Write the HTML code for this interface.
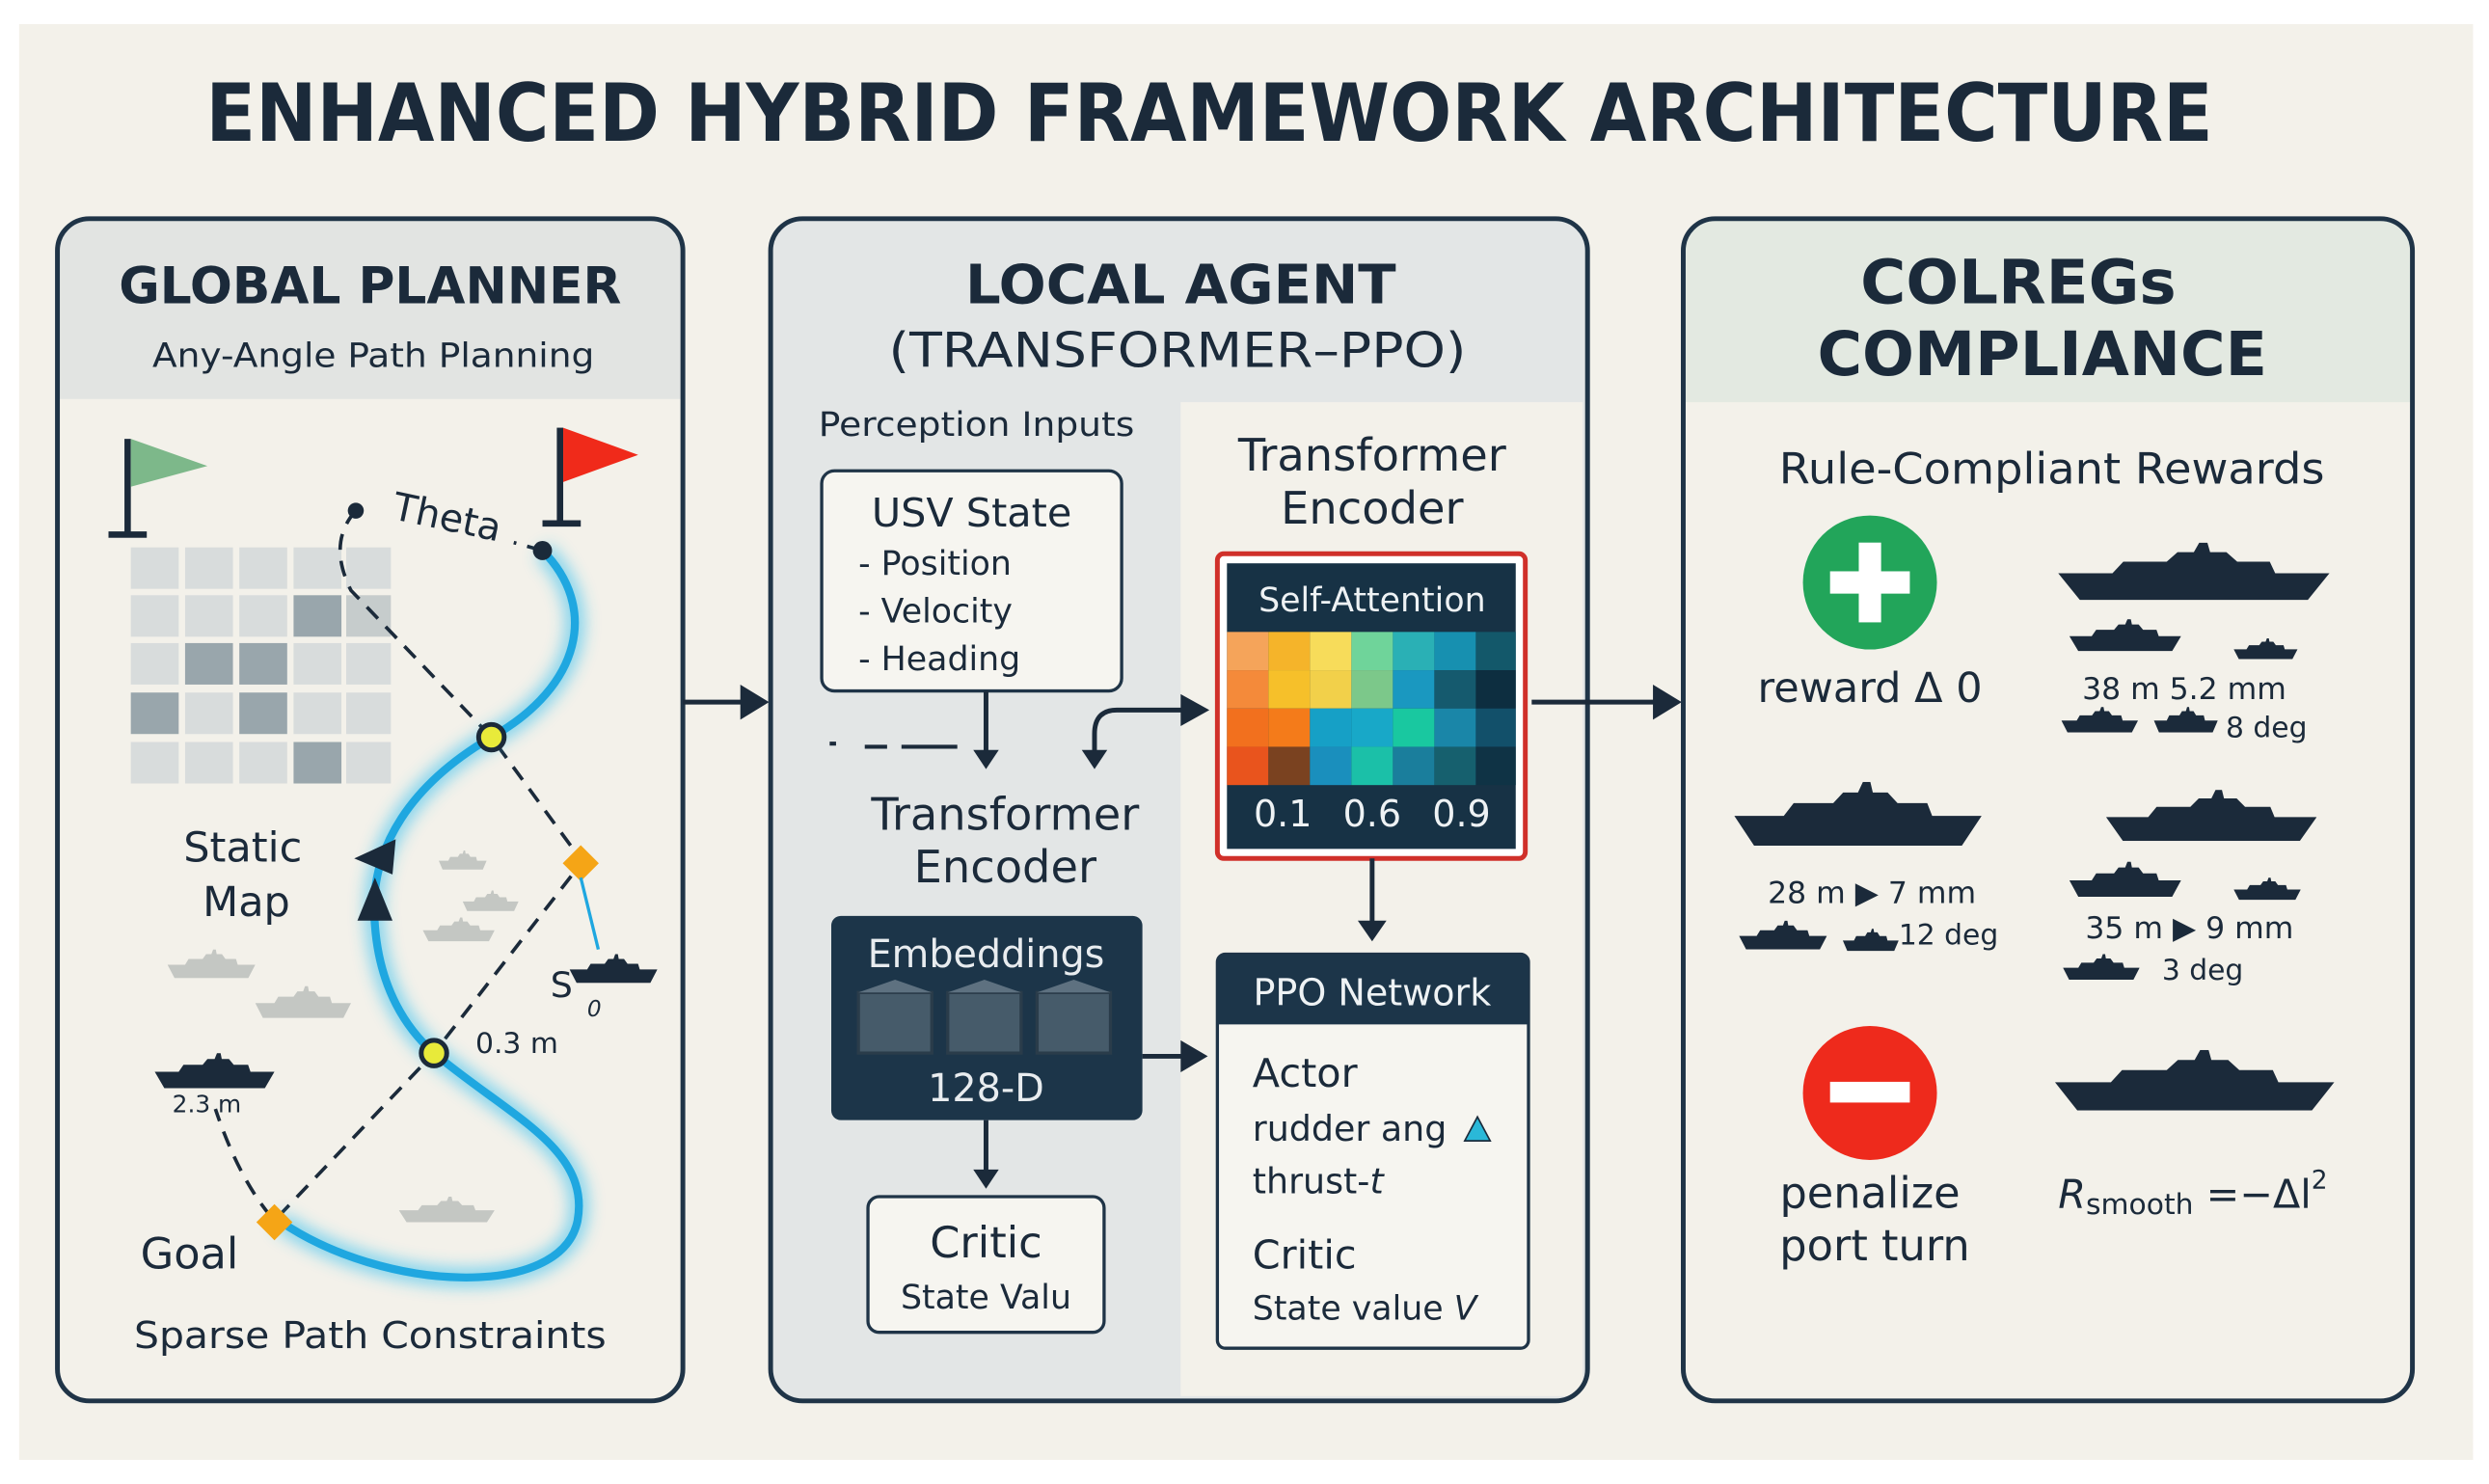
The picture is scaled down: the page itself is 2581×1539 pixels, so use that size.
<!DOCTYPE html>
<html><head><meta charset="utf-8"><style>
html,body{margin:0;padding:0;background:#fff;}
svg{display:block;}
text{font-family:"DejaVu Sans","Liberation Sans",sans-serif;fill:#1b2a3a;}
</style></head><body>
<svg width="2581" height="1539" viewBox="0 0 1560 930" xmlns="http://www.w3.org/2000/svg">
<defs>
<symbol id="ship" viewBox="0 0 100 30" preserveAspectRatio="none">
<path d="M0 16 L100 16 L92 30 L8 30 Z M20 16 L24 10 L40 10 L44 5 L50 5 L52 0 L55 0 L56 5 L62 5 L66 10 L78 10 L80 16 Z"/>
</symbol>
<filter id="glow" x="-20%" y="-20%" width="140%" height="140%"><feGaussianBlur stdDeviation="5"/></filter>
</defs>
<rect x="0" y="0" width="1560" height="930" fill="#fff"/>
<rect x="12" y="15" width="1538" height="900" fill="#f3f1ea"/>
<text x="758" y="88" font-size="50" font-weight="bold" text-anchor="middle" textLength="1258" lengthAdjust="spacingAndGlyphs">ENHANCED HYBRID FRAMEWORK ARCHITECTURE</text>

<!-- Panel 1 -->
<path d="M56 137 H408 Q428 137 428 157 V250 H36 V157 Q36 137 56 137Z" fill="#e2e4e2"/>
<rect x="36" y="137" width="392" height="741" rx="20" fill="none" stroke="#1f3447" stroke-width="3"/>
<text x="232" y="190" font-size="32" font-weight="bold" text-anchor="middle" textLength="315" lengthAdjust="spacingAndGlyphs">GLOBAL PLANNER</text>
<text x="234" y="230" font-size="21" text-anchor="middle" textLength="277" lengthAdjust="spacingAndGlyphs">Any-Angle Path Planning</text>
<g>
<rect x="82" y="343" width="30" height="26" fill="#d8dcdc"/><rect x="116" y="343" width="30" height="26" fill="#d8dcdc"/><rect x="150" y="343" width="30" height="26" fill="#d8dcdc"/><rect x="184" y="343" width="30" height="26" fill="#d8dcdc"/><rect x="217" y="343" width="28" height="26" fill="#d8dcdc"/>
<rect x="82" y="373" width="30" height="26" fill="#d8dcdc"/><rect x="116" y="373" width="30" height="26" fill="#d8dcdc"/><rect x="150" y="373" width="30" height="26" fill="#d8dcdc"/><rect x="184" y="373" width="30" height="26" fill="#99a6ac"/><rect x="217" y="373" width="28" height="26" fill="#c6cccc"/>
<rect x="82" y="403" width="30" height="26" fill="#d8dcdc"/><rect x="116" y="403" width="30" height="26" fill="#99a6ac"/><rect x="150" y="403" width="30" height="26" fill="#99a6ac"/><rect x="184" y="403" width="30" height="26" fill="#d8dcdc"/><rect x="217" y="403" width="28" height="26" fill="#d8dcdc"/>
<rect x="82" y="434" width="30" height="26" fill="#99a6ac"/><rect x="116" y="434" width="30" height="26" fill="#d8dcdc"/><rect x="150" y="434" width="30" height="26" fill="#99a6ac"/><rect x="184" y="434" width="30" height="26" fill="#d8dcdc"/><rect x="217" y="434" width="28" height="26" fill="#d8dcdc"/>
<rect x="82" y="465" width="30" height="26" fill="#d8dcdc"/><rect x="116" y="465" width="30" height="26" fill="#d8dcdc"/><rect x="150" y="465" width="30" height="26" fill="#d8dcdc"/><rect x="184" y="465" width="30" height="26" fill="#99a6ac"/><rect x="217" y="465" width="28" height="26" fill="#d8dcdc"/>
</g>
<rect x="78" y="275" width="4" height="60" fill="#1b2a3a"/><rect x="68" y="333" width="24" height="4" fill="#1b2a3a"/>
<path d="M82 275 L130 292 L82 305Z" fill="#7db88a"/>
<rect x="349" y="268" width="4" height="60" fill="#1b2a3a"/><rect x="340" y="326" width="24" height="4" fill="#1b2a3a"/>
<path d="M353 268 L400 285 L353 302Z" fill="#f02a1a"/>
<text x="245" y="325" font-size="24" transform="rotate(12 245 325)">Theta</text>
<path d="M340 345 L322 340 M223 320 Q205 340 220 370 L308 462 L365 540 L272 660 L172 765 Q150 740 135 695" fill="none" stroke="#1b2a3a" stroke-width="2.2" stroke-dasharray="10 7"/>
<path d="M340 345 C375 380 365 430 308 462 C260 490 230 530 235 580 C238 620 255 645 272 660 C320 700 370 720 362 765 C352 815 240 810 175 765" fill="none" stroke="#36c0ef" stroke-width="12" filter="url(#glow)" opacity="0.6"/>
<path d="M340 345 C375 380 365 430 308 462 C260 490 230 530 235 580 C238 620 255 645 272 660 C320 700 370 720 362 765 C352 815 240 810 175 765" fill="none" stroke="#1fa7e0" stroke-width="5"/>
<path d="M222 538 L248 526 L246 548Z" fill="#1b2a3a"/><path d="M235 550 L246 577 L224 577Z" fill="#1b2a3a"/>
<circle cx="223" cy="320" r="5" fill="#1b2a3a"/><circle cx="340" cy="345" r="6" fill="#1b2a3a"/>
<circle cx="308" cy="462" r="8" fill="#e8ea3a" stroke="#1b2a3a" stroke-width="3"/>
<circle cx="272" cy="660" r="8" fill="#e8ea3a" stroke="#1b2a3a" stroke-width="3"/>
<rect x="356" y="533" width="16" height="16" fill="#f5a516" transform="rotate(45 364 541)"/>
<rect x="164" y="758" width="16" height="16" fill="#f5a516" transform="rotate(45 172 766)"/>
<path d="M364 550 L375 595" stroke="#1fa7e0" stroke-width="2"/>
<text x="115" y="540" font-size="26">Static</text><text x="127" y="574" font-size="26">Map</text>
<text x="88" y="795" font-size="27">Goal</text>
<text x="232" y="845" font-size="23" text-anchor="middle" textLength="296" lengthAdjust="spacingAndGlyphs">Sparse Path Constraints</text>
<g fill="#c4c7c3">
<use href="#ship" x="105" y="595" width="55" height="18"/><use href="#ship" x="160" y="618" width="60" height="20"/>
<use href="#ship" x="265" y="575" width="45" height="15"/><use href="#ship" x="290" y="558" width="35" height="13"/>
<use href="#ship" x="250" y="750" width="60" height="16"/><use href="#ship" x="275" y="533" width="30" height="12"/>
</g>
<g fill="#1b2a3a"><use href="#ship" x="97" y="660" width="75" height="22"/><use href="#ship" x="357" y="598" width="55" height="18"/></g>
<text x="108" y="697" font-size="15">2.3 m</text>
<text x="298" y="660" font-size="18">0.3 m</text>
<text x="345" y="625" font-size="22">S</text><text x="368" y="637" font-size="14" font-style="italic">0</text>

<!-- Panel 2 -->
<rect x="483" y="137" width="512" height="741" rx="20" fill="#e3e6e6"/>
<rect x="740" y="252" width="252" height="623" fill="#f3f1ea"/>
<rect x="483" y="137" width="512" height="741" rx="20" fill="none" stroke="#1f3447" stroke-width="3"/>
<text x="740" y="190" font-size="34" font-weight="bold" text-anchor="middle" textLength="270" lengthAdjust="spacingAndGlyphs">LOCAL AGENT</text>
<text x="738" y="230" font-size="30" text-anchor="middle" textLength="362" lengthAdjust="spacingAndGlyphs">(TRANSFORMER–PPO)</text>
<text x="513" y="273" font-size="21" textLength="198" lengthAdjust="spacingAndGlyphs">Perception Inputs</text>
<rect x="515" y="295" width="188" height="138" rx="8" fill="#f6f5f0" stroke="#1f3447" stroke-width="2"/>
<text x="609" y="330" font-size="25" text-anchor="middle">USV State</text>
<text x="538" y="360" font-size="21">-  Position</text>
<text x="538" y="390" font-size="21">-  Velocity</text>
<text x="538" y="420" font-size="21">-  Heading</text>
<path d="M618 433 V472" stroke="#1b2a3a" stroke-width="3"/><path d="M610 470 L626 470 L618 482Z" fill="#1b2a3a"/>
<path d="M520 466 h4 M542 468 h14 M565 468 h35" stroke="#1b2a3a" stroke-width="2.5"/>
<path d="M686 472 V460 Q686 445 700 445 H745" fill="none" stroke="#1b2a3a" stroke-width="3"/>
<path d="M678 470 L694 470 L686 482Z" fill="#1b2a3a"/><path d="M740 435 L758 445 L740 455Z" fill="#1b2a3a"/>
<text x="630" y="520" font-size="28" text-anchor="middle">Transformer</text>
<text x="630" y="553" font-size="28" text-anchor="middle">Encoder</text>
<rect x="521" y="574" width="195" height="128" rx="6" fill="#1c3549"/>
<text x="618" y="606" font-size="24" text-anchor="middle" style="fill:#e8ecef">Embeddings</text>
<g fill="#465b6a" stroke="#2a3c4a" stroke-width="2">
<rect x="538" y="622" width="46" height="38"/><rect x="594" y="622" width="46" height="38"/><rect x="650" y="622" width="46" height="38"/>
</g>
<g fill="#5e7180"><path d="M538 622 L561 614 L584 622Z"/><path d="M594 622 L617 614 L640 622Z"/><path d="M650 622 L673 614 L696 622Z"/></g>
<text x="618" y="690" font-size="24" text-anchor="middle" style="fill:#e8ecef">128-D</text>
<path d="M618 702 V735" stroke="#1b2a3a" stroke-width="3"/><path d="M610 733 L626 733 L618 745Z" fill="#1b2a3a"/>
<rect x="544" y="750" width="148" height="85" rx="7" fill="#f6f5f0" stroke="#1f3447" stroke-width="2"/>
<text x="618" y="788" font-size="27" text-anchor="middle">Critic</text>
<text x="618" y="820" font-size="21" text-anchor="middle">State Valu</text>
<text x="860" y="295" font-size="28" text-anchor="middle">Transformer</text>
<text x="860" y="328" font-size="28" text-anchor="middle">Encoder</text>
<rect x="763" y="347" width="193" height="191" rx="4" fill="#fff" stroke="#d0302a" stroke-width="3"/>
<rect x="769" y="353" width="181" height="179" fill="#173245"/>
<text x="860" y="383" font-size="21" text-anchor="middle" style="fill:#eef2f4">Self-Attention</text>
<g>
<rect x="769" y="396" width="26" height="24" fill="#f5a45a"/><rect x="795" y="396" width="26" height="24" fill="#f5b42a"/><rect x="821" y="396" width="26" height="24" fill="#f7dc5a"/><rect x="847" y="396" width="26" height="24" fill="#6fd49a"/><rect x="873" y="396" width="26" height="24" fill="#2ab0b5"/><rect x="899" y="396" width="26" height="24" fill="#1790b0"/><rect x="925" y="396" width="25" height="24" fill="#13586a"/>
<rect x="769" y="420" width="26" height="24" fill="#f48a3a"/><rect x="795" y="420" width="26" height="24" fill="#f6c02a"/><rect x="821" y="420" width="26" height="24" fill="#f2d04a"/><rect x="847" y="420" width="26" height="24" fill="#7cc88a"/><rect x="873" y="420" width="26" height="24" fill="#1a98c0"/><rect x="899" y="420" width="26" height="24" fill="#155a6e"/><rect x="925" y="420" width="25" height="24" fill="#0d2e40"/>
<rect x="769" y="444" width="26" height="24" fill="#f2701e"/><rect x="795" y="444" width="26" height="24" fill="#f47b1a"/><rect x="821" y="444" width="26" height="24" fill="#16a0c6"/><rect x="847" y="444" width="26" height="24" fill="#18a8c8"/><rect x="873" y="444" width="26" height="24" fill="#19c8a0"/><rect x="899" y="444" width="26" height="24" fill="#1a86a8"/><rect x="925" y="444" width="25" height="24" fill="#12506a"/>
<rect x="769" y="468" width="26" height="24" fill="#e9541d"/><rect x="795" y="468" width="26" height="24" fill="#7a4220"/><rect x="821" y="468" width="26" height="24" fill="#1a8fbd"/><rect x="847" y="468" width="26" height="24" fill="#1bc0a8"/><rect x="873" y="468" width="26" height="24" fill="#1a7e9c"/><rect x="899" y="468" width="26" height="24" fill="#16606e"/><rect x="925" y="468" width="25" height="24" fill="#0f3345"/>
</g>
<text x="804" y="518" font-size="23" text-anchor="middle" style="fill:#eef2f4">0.1</text>
<text x="860" y="518" font-size="23" text-anchor="middle" style="fill:#eef2f4">0.6</text>
<text x="916" y="518" font-size="23" text-anchor="middle" style="fill:#eef2f4">0.9</text>
<path d="M860 538 V580" stroke="#1b2a3a" stroke-width="3"/><path d="M851 577 L869 577 L860 590Z" fill="#1b2a3a"/>
<path d="M716 662 H745" stroke="#1b2a3a" stroke-width="3"/><path d="M740 652 L757 662 L740 672Z" fill="#1b2a3a"/>
<rect x="763" y="598" width="195" height="247" rx="5" fill="#f6f5f0" stroke="#1f3447" stroke-width="2"/>
<path d="M763 603 Q763 598 768 598 H953 Q958 598 958 603 V642 H763Z" fill="#1c3549"/>
<text x="860" y="630" font-size="23" text-anchor="middle" style="fill:#eef2f4">PPO Network</text>
<text x="785" y="681" font-size="25">Actor</text>
<text x="785" y="715" font-size="22">rudder ang</text><path d="M918 715 L926 700 L934 715Z" fill="#2ab8d8" stroke="#1b2a3a" stroke-width="1"/>
<text x="785" y="748" font-size="22">thrust-<tspan font-style="italic">t</tspan></text>
<text x="785" y="795" font-size="25">Critic</text>
<text x="785" y="827" font-size="21">State value <tspan font-style="italic">V</tspan></text>

<path d="M428 440 H468" stroke="#1b2a3a" stroke-width="3"/><path d="M464 429 L482 440 L464 451Z" fill="#1b2a3a"/>
<path d="M960 440 H1040" stroke="#1b2a3a" stroke-width="3"/><path d="M1036 429 L1054 440 L1036 451Z" fill="#1b2a3a"/>

<!-- Panel 3 -->
<path d="M1075 137 H1492 Q1512 137 1512 157 V252 H1055 V157 Q1055 137 1075 137Z" fill="#e3e9e1"/>
<rect x="1055" y="137" width="457" height="741" rx="20" fill="none" stroke="#1f3447" stroke-width="3"/>
<text x="1265" y="190" font-size="38" font-weight="bold" text-anchor="middle" textLength="198" lengthAdjust="spacingAndGlyphs">COLREGs</text>
<text x="1280" y="235" font-size="38" font-weight="bold" text-anchor="middle" textLength="282" lengthAdjust="spacingAndGlyphs">COMPLIANCE</text>
<text x="1286" y="303" font-size="27" text-anchor="middle" textLength="342" lengthAdjust="spacingAndGlyphs">Rule-Compliant Rewards</text>
<circle cx="1172" cy="365" r="42" fill="#22a55a"/>
<rect x="1147" y="358" width="50" height="14" fill="#fff"/><rect x="1165" y="340" width="14" height="50" fill="#fff"/>
<text x="1172" y="440" font-size="26" text-anchor="middle">reward Δ 0</text>
<circle cx="1172" cy="685" r="42" fill="#ee2a1c"/><rect x="1147" y="678" width="50" height="13" fill="#fff"/>
<text x="1172" y="757" font-size="27" text-anchor="middle">penalize</text>
<text x="1175" y="790" font-size="27" text-anchor="middle">port turn</text>
<text x="1290" y="757" font-size="25" font-style="italic">R<tspan font-size="18" font-style="normal" dy="4">smooth</tspan><tspan font-style="normal" dy="-4"> =−Δl</tspan><tspan font-size="16" dy="-12" font-style="normal">2</tspan></text>
<g fill="#1b2a3a">
<use href="#ship" x="1290" y="340" width="170" height="36"/>
<use href="#ship" x="1297" y="388" width="70" height="20"/><use href="#ship" x="1400" y="400" width="40" height="13"/>
<use href="#ship" x="1292" y="443" width="48" height="16"/><use href="#ship" x="1350" y="443" width="40" height="16"/>
<use href="#ship" x="1087" y="490" width="155" height="40"/>
<use href="#ship" x="1320" y="495" width="132" height="32"/>
<use href="#ship" x="1297" y="540" width="70" height="22"/><use href="#ship" x="1400" y="550" width="42" height="14"/>
<use href="#ship" x="1090" y="577" width="55" height="18"/><use href="#ship" x="1155" y="582" width="35" height="14"/>
<use href="#ship" x="1293" y="598" width="48" height="16"/>
<use href="#ship" x="1288" y="658" width="175" height="38"/>
</g>
<text x="1305" y="438" font-size="19">38 m 5.2 mm</text>
<text x="1395" y="462" font-size="18">8 deg</text>
<text x="1108" y="566" font-size="19">28 m  <tspan>▶</tspan> 7 mm</text>
<text x="1190" y="592" font-size="18">12 deg</text>
<text x="1307" y="588" font-size="19">35 m  ▶ 9 mm</text>
<text x="1355" y="614" font-size="18">3 deg</text>
</svg>
</body></html>
